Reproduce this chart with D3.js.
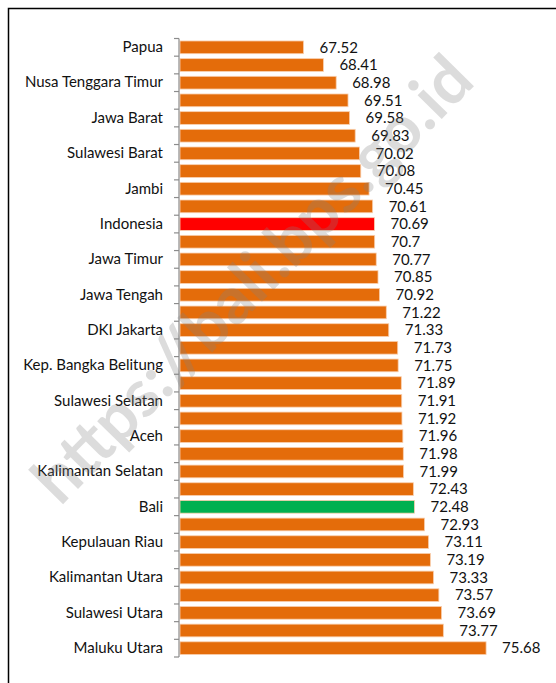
<!DOCTYPE html>
<html>
<head>
<meta charset="utf-8">
<script src="https://cdn.jsdelivr.net/npm/d3@7"></script>
<style>
  body { margin: 0; background: #fff; }
  text { font-family: Lato, "Open Sans", sans-serif; }
</style>
</head>
<body>
<div class="chartHolder"></div>
<script>
// provinces, listed top to bottom as drawn
const provinces = [
  "Papua", "Papua Barat", "Nusa Tenggara Timur", "Maluku", "Jawa Barat",
  "Gorontalo", "Sulawesi Barat", "Nusa Tenggara Barat", "Jambi", "Sumatera Selatan",
  "Indonesia", "Sulawesi Tenggara", "Jawa Timur", "Lampung", "Jawa Tengah",
  "Sulawesi Tengah", "DKI Jakarta", "Bengkulu", "Kep. Bangka Belitung", "Sumatera Utara",
  "Sulawesi Selatan", "Banten", "Aceh", "Kalimantan Barat", "Kalimantan Selatan",
  "Riau", "Bali", "Kalimantan Tengah", "Kepulauan Riau", "Sumatera Barat",
  "Kalimantan Utara", "Kalimantan Timur", "Sulawesi Utara", "DI Yogyakarta", "Maluku Utara"
];
const values = [
  67.52, 68.41, 68.98, 69.51, 69.58,
  69.83, 70.02, 70.08, 70.45, 70.61,
  70.69, 70.7, 70.77, 70.85, 70.92,
  71.22, 71.33, 71.73, 71.75, 71.89,
  71.91, 71.92, 71.96, 71.98, 71.99,
  72.43, 72.48, 72.93, 73.11, 73.19,
  73.33, 73.57, 73.69, 73.77, 75.68
];
const highlights = { "Indonesia": "#ff0000", "Bali": "#00b050" };
const xDomain = [62, 78];

const data = provinces.map((p, i) => ({ name: p, value: values[i] }));

const w = 556, h = 683;
const svg = d3.select(".chartHolder").append("svg")
  .attr("width", w)
  .attr("height", h);

// frame (cropped box: top and left edges only)
svg.append("path")
  .attr("d", "M8.5,683 V8.5 H556")
  .attr("fill", "none")
  .attr("stroke", "#000")
  .attr("stroke-width", 1.5);

const xScale = d3.scaleLinear().domain(xDomain).range([180, 538]);
const yScale = d3.scaleBand()
  .domain(provinces)
  .range([38.5, 657])
  .paddingInner(0.28)
  .paddingOuter(0.14);

// bars
svg.selectAll("rect.bar")
  .data(data)
  .enter()
  .append("rect")
  .attr("class", "bar")
  .attr("x", xScale(xDomain[0]))
  .attr("y", d => yScale(d.name))
  .attr("width", d => xScale(d.value) - xScale(xDomain[0]))
  .attr("height", yScale.bandwidth())
  .attr("fill", d => highlights[d.name] || "#e46c0a")
  .attr("stroke", "#f9cfae")
  .attr("stroke-width", 0.8);

// value labels
svg.selectAll("text.val")
  .data(data)
  .enter()
  .append("text")
  .attr("class", "val")
  .attr("x", d => xScale(d.value) + 16)
  .attr("y", d => yScale(d.name) + yScale.bandwidth() / 2)
  .attr("dy", "0.35em")
  .attr("font-size", 15)
  .attr("fill", "#111")
  .text(d => d.value);

// category axis, every second label shown
const axis = svg.append("g")
  .attr("transform", "translate(179,0)")
  .call(d3.axisLeft(yScale).tickSize(0).tickPadding(16)
    .tickFormat((d, i) => i % 2 === 0 ? d : ""));
axis.select(".domain").remove();
axis.selectAll("text")
  .attr("font-size", 15)
  .attr("font-family", "Lato, 'Open Sans', sans-serif")
  .attr("fill", "#111");

// tick marks between categories
const step = yScale.step();
const bounds = provinces.map(p => yScale(p) + yScale.bandwidth() / 2 - step / 2)
  .concat([yScale(provinces[provinces.length - 1]) + yScale.bandwidth() / 2 + step / 2]);
svg.append("line")
  .attr("x1", 179).attr("x2", 179)
  .attr("y1", bounds[0]).attr("y2", bounds[bounds.length - 1])
  .attr("stroke", "#8c8c8c")
  .attr("stroke-width", 1.2);
svg.selectAll("line.tick")
  .data(bounds)
  .enter()
  .append("line")
  .attr("class", "tick")
  .attr("x1", 174).attr("x2", 179)
  .attr("y1", d => d).attr("y2", d => d)
  .attr("stroke", "#8c8c8c")
  .attr("stroke-width", 1.2);

// watermark
svg.append("text")
  .attr("transform", "translate(252,279) rotate(-45.5)")
  .attr("text-anchor", "middle")
  .attr("dy", "0.35em")
  .attr("font-family", "'Liberation Sans', Arial, sans-serif")
  .attr("font-weight", "bold")
  .attr("font-size", 66)
  .attr("fill", "#808080")
  .attr("fill-opacity", 0.28)
  .text("https://bali.bps.go.id");
</script>
</body>
</html>
